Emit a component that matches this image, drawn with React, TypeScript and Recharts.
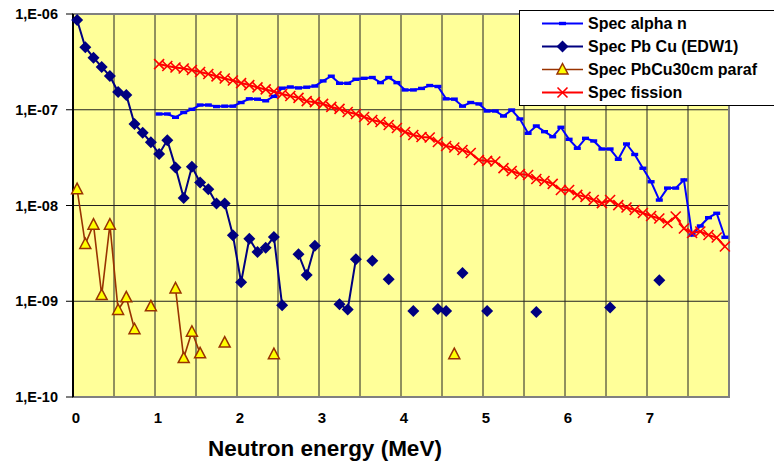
import React from 'react';
import {
  ComposedChart,
  Line,
  XAxis,
  YAxis,
  CartesianGrid,
  ReferenceArea,
} from 'recharts';

const energyBins = [
  0.05, 0.15, 0.25, 0.35, 0.45, 0.55, 0.65, 0.75, 0.85, 0.95,
  1.05, 1.15, 1.25, 1.35, 1.45, 1.55, 1.65, 1.75, 1.85, 1.95,
  2.05, 2.15, 2.25, 2.35, 2.45, 2.55, 2.65, 2.75, 2.85, 2.95,
  3.05, 3.15, 3.25, 3.35, 3.45, 3.55, 3.65, 3.75, 3.85, 3.95,
  4.05, 4.15, 4.25, 4.35, 4.45, 4.55, 4.65, 4.75, 4.85, 4.95,
  5.05, 5.15, 5.25, 5.35, 5.45, 5.55, 5.65, 5.75, 5.85, 5.95,
  6.05, 6.15, 6.25, 6.35, 6.45, 6.55, 6.65, 6.75, 6.85, 6.95,
  7.05, 7.15, 7.25, 7.35, 7.45, 7.55, 7.65, 7.75, 7.85, 7.95,
];

const alphaN = [
  null, null, null, null, null, null, null, null, null, null,
  9.03e-8, 9.03e-8, 8.34e-8, 9.36e-8, 1.01e-7, 1.12e-7, 1.12e-7, 1.08e-7, 1.09e-7, 1.09e-7,
  1.19e-7, 1.3e-7, 1.29e-7, 1.24e-7, 1.38e-7, 1.68e-7, 1.73e-7, 1.69e-7, 1.72e-7, 1.77e-7,
  2.0e-7, 2.24e-7, 1.89e-7, 1.89e-7, 2.08e-7, 2.13e-7, 2.17e-7, 1.92e-7, 2.17e-7, 1.92e-7,
  1.61e-7, 1.61e-7, 1.67e-7, 1.79e-7, 1.75e-7, 1.3e-7, 1.29e-7, 1.09e-7, 1.19e-7, 1.15e-7,
  9.7e-8, 9.7e-8, 8.6e-8, 9.94e-8, 8.01e-8, 5.68e-8, 6.77e-8, 5.9e-8, 5.23e-8, 6.56e-8,
  4.91e-8, 3.96e-8, 5.03e-8, 4.72e-8, 3.89e-8, 3.89e-8, 3.04e-8, 4.39e-8, 3.41e-8, 2.45e-8,
  1.77e-8, 1.14e-8, 1.52e-8, 1.52e-8, 1.85e-8, 4.92e-9, 6.11e-9, 7.46e-9, 8.29e-9, 4.66e-9,
];

const pbCuEdw1 = [
  8.65e-7, 4.5e-7, 3.5e-7, 2.8e-7, 2.25e-7, 1.53e-7, 1.43e-7, 7.1e-8, 5.75e-8, 4.57e-8,
  3.45e-8, 4.8e-8, 2.5e-8, 1.2e-8, 2.54e-8, 1.74e-8, 1.48e-8, 1.05e-8, 1.05e-8, 4.9e-9,
  1.58e-9, 4.5e-9, 3.27e-9, 3.63e-9, 4.7e-9, 9.1e-10, null, 3.1e-9, 1.88e-9, 3.8e-9,
  null, null, 9.3e-10, 8.2e-10, 2.75e-9, null, 2.65e-9, null, 1.7e-9, null,
  null, 7.9e-10, null, null, 8.3e-10, 7.9e-10, null, 1.97e-9, null, null,
  7.9e-10, null, null, null, null, null, 7.7e-10, null, null, null,
  null, null, null, null, null, 8.6e-10, null, null, null, null,
  null, 1.66e-9, null, null, null, null, null, null, null, null,
];

const pbCu30cmParaf = [
  1.48e-8, 3.96e-9, 6.3e-9, 1.16e-9, 6.3e-9, 8.1e-10, 1.1e-9, 5.1e-10, null, 8.85e-10,
  null, null, 1.36e-9, 2.55e-10, 4.8e-10, 2.86e-10, null, null, 3.7e-10, null,
  null, null, null, null, 2.8e-10, null, null, null, null, null,
  null, null, null, null, null, null, null, null, null, null,
  null, null, null, null, null, null, 2.8e-10, null, null, null,
  null, null, null, null, null, null, null, null, null, null,
  null, null, null, null, null, null, null, null, null, null,
  null, null, null, null, null, null, null, null, null, null,
];

const fission = [
  null, null, null, null, null, null, null, null, null, null,
  3.0e-7, 2.86e-7, 2.76e-7, 2.7e-7, 2.6e-7, 2.48e-7, 2.36e-7, 2.23e-7, 2.12e-7, 2.02e-7,
  1.9e-7, 1.81e-7, 1.71e-7, 1.63e-7, 1.55e-7, 1.46e-7, 1.39e-7, 1.33e-7, 1.23e-7, 1.2e-7,
  1.15e-7, 1.07e-7, 1.02e-7, 9.47e-8, 9.03e-8, 8.4e-8, 7.82e-8, 7.45e-8, 6.93e-8, 6.45e-8,
  5.86e-8, 5.45e-8, 5.19e-8, 5.13e-8, 4.6e-8, 4.18e-8, 4.03e-8, 3.8e-8, 3.53e-8, 2.99e-8,
  2.92e-8, 2.88e-8, 2.46e-8, 2.29e-8, 2.13e-8, 2.08e-8, 1.89e-8, 1.8e-8, 1.68e-8, 1.45e-8,
  1.45e-8, 1.29e-8, 1.23e-8, 1.14e-8, 1.06e-8, 1.14e-8, 1.01e-8, 9.53e-9, 8.98e-9, 8.35e-9,
  7.77e-9, 7.32e-9, 6.57e-9, 7.68e-9, 5.75e-9, 5.16e-9, 5.35e-9, 4.92e-9, 4.63e-9, 3.73e-9,
];

const xTicks = [0, 0.5, 1, 1.5, 2, 2.5, 3, 3.5, 4, 4.5, 5, 5.5, 6, 6.5, 7, 7.5, 8];
const yTicks = [1e-10, 1e-9, 1e-8, 1e-7, 1e-6];

const data = energyBins.map((e, i) => ({
  e,
  alpha: alphaN[i],
  pbcu: pbCuEdw1[i],
  paraf: pbCu30cmParaf[i],
  fission: fission[i],
}));

type MarkerKind = 'dash' | 'diamond' | 'triangle' | 'cross';

const series: { key: string; name: string; color: string; marker: MarkerKind; width: number }[] = [
  { key: 'alpha', name: 'Spec alpha n', color: '#0000FF', marker: 'dash', width: 2 },
  { key: 'pbcu', name: 'Spec Pb Cu (EDW1)', color: '#000080', marker: 'diamond', width: 2 },
  { key: 'paraf', name: 'Spec PbCu30cm paraf', color: '#993300', marker: 'triangle', width: 1.6 },
  { key: 'fission', name: 'Spec fission', color: '#FF0000', marker: 'cross', width: 2 },
];

const FONT = 'Arial, "Liberation Sans", sans-serif';

function Marker({ kind, cx, cy, color }: { kind: MarkerKind; cx: number; cy: number; color: string }) {
  switch (kind) {
    case 'dash':
      return <rect x={cx - 3.5} y={cy - 1.7} width={7} height={3.4} fill={color} />;
    case 'diamond':
      return (
        <polygon
          points={`${cx},${cy - 6} ${cx + 6},${cy} ${cx},${cy + 6} ${cx - 6},${cy}`}
          fill={color}
        />
      );
    case 'triangle':
      return (
        <polygon
          points={`${cx},${cy - 6} ${cx + 5.5},${cy + 4.5} ${cx - 5.5},${cy + 4.5}`}
          fill="#FFFF00"
          stroke={color}
          strokeWidth={1.5}
        />
      );
    default:
      return (
        <path
          d={`M${cx - 5},${cy - 5}L${cx + 5},${cy + 5}M${cx - 5},${cy + 5}L${cx + 5},${cy - 5}`}
          stroke={color}
          strokeWidth={1.6}
          fill="none"
        />
      );
  }
}

const makeDot = (kind: MarkerKind, color: string, key: string) => (props: any) => {
  const { cx, cy, index, value } = props;
  if (value == null || cy == null || Number.isNaN(cy)) return <g key={`${key}-${index}`} />;
  return (
    <g key={`${key}-${index}`}>
      <Marker kind={kind} cx={cx} cy={cy} color={color} />
    </g>
  );
};

const expLabel = (v: number) => {
  const p = Math.round(Math.log10(v));
  const abs = Math.abs(p);
  return `1,E${p < 0 ? '-' : '+'}${abs < 10 ? '0' + abs : abs}`;
};

function ChartLegend() {
  return (
    <div
      style={{
        position: 'absolute',
        left: 519,
        top: 10,
        width: 270,
        height: 96,
        background: '#fff',
        border: '1px solid #000',
        boxSizing: 'border-box',
      }}
    >
      {series.map((s, i) => (
        <div
          key={s.key}
          style={{
            position: 'absolute',
            left: 0,
            top: 1 + i * 23,
            height: 23,
            display: 'flex',
            alignItems: 'center',
          }}
        >
          <svg width={68} height={23} style={{ display: 'block' }}>
            <line x1={22} x2={63} y1={11.5} y2={11.5} stroke={s.color} strokeWidth={s.width} />
            <Marker kind={s.marker} cx={42.5} cy={11.5} color={s.color} />
          </svg>
          <span style={{ fontFamily: FONT, fontWeight: 'bold', fontSize: 16, color: '#000', whiteSpace: 'nowrap' }}>
            {s.name}
          </span>
        </div>
      ))}
    </div>
  );
}

export default function App() {
  return (
    <div
      style={{
        position: 'absolute',
        left: 0,
        top: 0,
        width: 774,
        height: 465,
        overflow: 'hidden',
        background: '#fff',
      }}
    >
      <ComposedChart
        width={774}
        height={465}
        data={data}
        margin={{ top: 14, right: 45, bottom: 38, left: 8 }}
      >
        <CartesianGrid stroke="#222" strokeWidth={1} fill="#FFFF99" fillOpacity={1} />
        <XAxis
          dataKey="e"
          type="number"
          domain={[0, 8]}
          ticks={xTicks}
          interval={0}
          height={30}
          tickLine={false}
          tickMargin={9}
          axisLine={{ stroke: '#808080', strokeWidth: 2 }}
          tickFormatter={(v: number) => (Number.isInteger(v) && v < 8 ? String(v) : '')}
          tick={{ fill: '#000', fontFamily: FONT, fontWeight: 'bold', fontSize: 15, dx: 3 }}
          label={{
            content: ({ viewBox }: any) => (
              <text
                x={viewBox.x + viewBox.width / 2 - 76}
                y={viewBox.y + 59}
                textAnchor="middle"
                fontFamily={FONT}
                fontWeight="bold"
                fontSize={22.5}
                fill="#000"
              >
                Neutron energy (MeV)
              </text>
            ),
          }}
        />
        <YAxis
          type="number"
          scale="log"
          domain={[1e-10, 1e-6]}
          allowDataOverflow
          ticks={yTicks}
          interval={0}
          width={65}
          tickSize={7}
          tickMargin={8}
          axisLine={{ stroke: '#000', strokeWidth: 2 }}
          tickLine={{ stroke: '#000' }}
          tickFormatter={expLabel}
          tick={{ fill: '#000', fontFamily: FONT, fontWeight: 'bold', fontSize: 14.5 }}
        />
        <ReferenceArea
          x1={0}
          x2={8}
          y1={1e-10}
          y2={1e-6}
          fill="none"
          stroke="#808080"
          strokeWidth={2}
          ifOverflow="visible"
        />
        {series.map((s) => (
          <Line
            key={s.key}
            dataKey={s.key}
            name={s.name}
            type="linear"
            stroke={s.color}
            strokeWidth={s.width}
            dot={makeDot(s.marker, s.color, s.key)}
            activeDot={false}
            isAnimationActive={false}
          />
        ))}
      </ComposedChart>
      <ChartLegend />
    </div>
  );
}
